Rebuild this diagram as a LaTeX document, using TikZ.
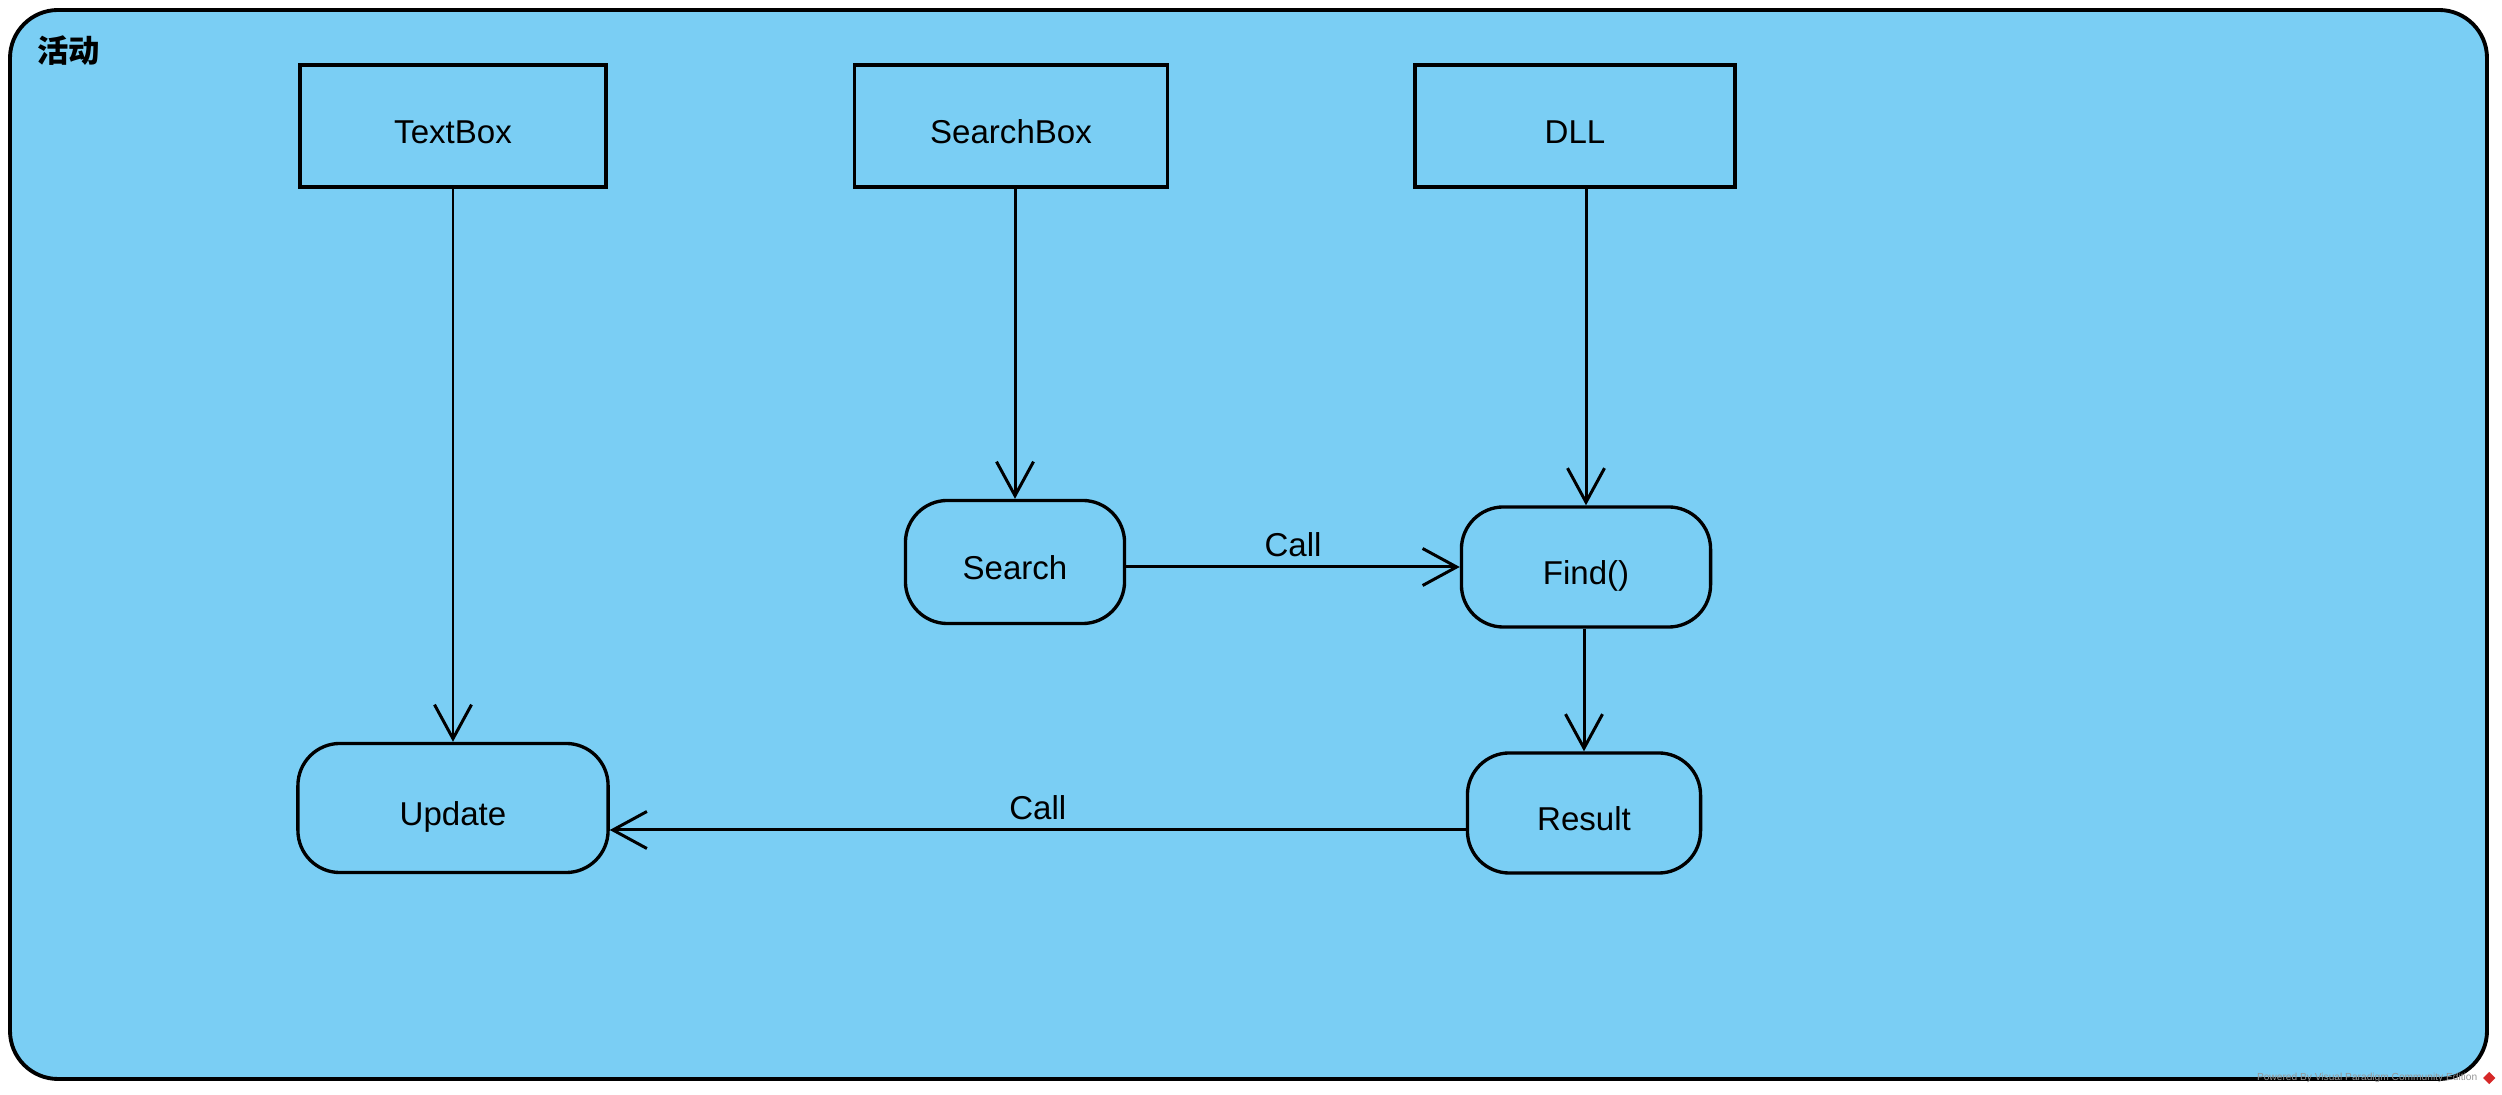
\documentclass[tikz,border=0pt]{standalone}
\usepackage{fontspec}
\setmainfont{Liberation Sans}
\newfontfamily\cjk{Noto Sans CJK SC}
\usetikzlibrary{arrows.meta, positioning, shapes.geometric}
\definecolor{actblue}{RGB}{122,206,244}
\definecolor{markgray}{RGB}{150,150,150}
\definecolor{markred}{RGB}{214,40,40}

\begin{document}
\begin{tikzpicture}[
        x=0.01cm, y=-0.01cm,
        font=\fontsize{9.4}{11}\selectfont,
        objbox/.style={rectangle, draw=black, line width=0.95pt, fill=actblue, minimum height=1.22cm, text height=1em, text depth=0pt, align=center},
        actbox/.style={rectangle, draw=black, line width=0.95pt, fill=actblue, rounded corners=0.42cm, minimum height=1.21cm, text height=1em, text depth=0pt, align=center},
        flow/.style={-{Straight Barb[length=0.34cm, width=0.37cm, line width=0.85pt]}, line width=0.85pt}
    ]
        \useasboundingbox (0,0) rectangle (2502,1095);
        % frame of the activity
        \draw[line width=1.1pt, fill=actblue, rounded corners=0.48cm] (10,10) rectangle (2487,1079);
        \node[anchor=north west, inner sep=0pt, font=\cjk\bfseries\fontsize{8.9}{10}\selectfont] (title) at (37,35) {活动};

        \node[objbox, minimum width=3.06cm] (textbox) at (453,126) {TextBox};
        \node[objbox, minimum width=3.13cm] (searchbox) at (1011,126) {SearchBox};
        \node[objbox, minimum width=3.20cm] (dll) at (1575,126) {DLL};

        \node[actbox, minimum width=2.19cm, minimum height=1.23cm] (search) at (1015,562) {Search};
        \node[actbox, minimum width=2.49cm, minimum height=1.20cm] (find) at (1586,567) {Find()};
        \node[actbox, minimum width=2.33cm, minimum height=1.20cm] (result) at (1584,813) {Result};
        \node[actbox, minimum width=3.10cm, minimum height=1.29cm] (update) at (453,808) {Update};

        \draw[flow] (textbox.south) -- (update.north);
        \draw[flow] (search.north |- searchbox.south) -- (search.north);
        \draw[flow] (find.north |- dll.south) -- (find.north);
        \draw[flow] (find.south -| result.north) -- (result.north);
        \draw[flow] (search.east |- find.west) -- node[above=-1pt] {Call} (find.west);
        \draw[flow] (result.west |- 0,830) -- node[above=-1pt] {Call} (update.east |- 0,830);

        % watermark
        \node[anchor=east, inner sep=0pt, text=markgray, font=\fontsize{2.9}{3}\selectfont] (powered) at (2478,1078) {Powered By Visual Paradigm Community Edition};
        \node[diamond, fill=markred, inner sep=0pt, minimum size=0.13cm, right=0.04cm of powered] (vplogo) {};
    \end{tikzpicture}
\end{document}
